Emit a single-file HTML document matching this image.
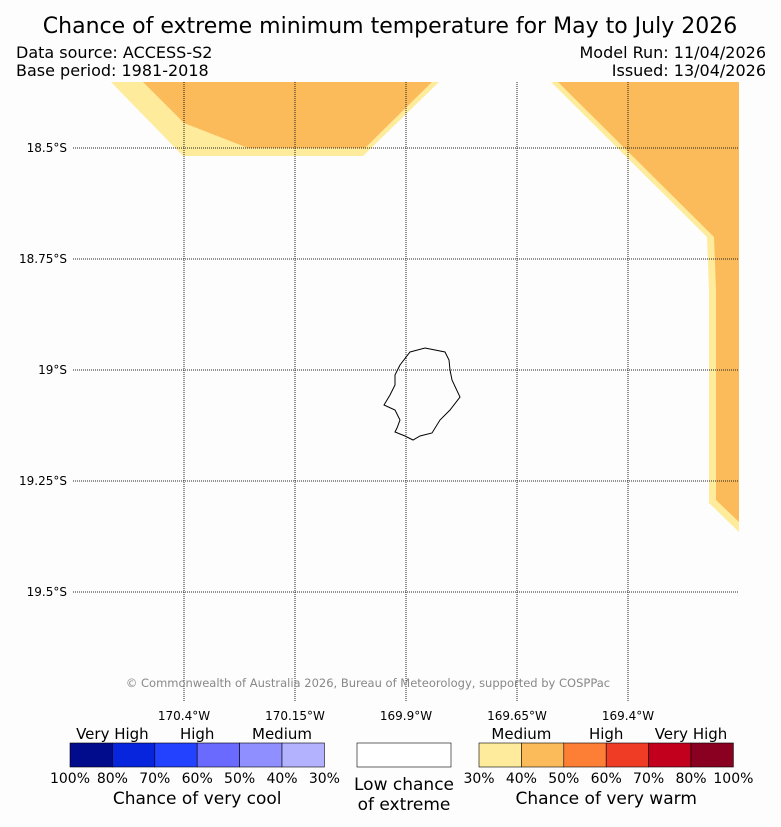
<!DOCTYPE html>
<html><head><meta charset="utf-8"><style>
body{margin:0;background:#fdfdfd;font-family:"Liberation Sans","DejaVu Sans",sans-serif;overflow:hidden}
svg{display:block}
svg text{font-family:"DejaVu Sans","Liberation Sans",sans-serif}
</style></head><body>
<svg width="781" height="827" viewBox="0 0 781 827">
<rect width="781" height="827" fill="#fdfdfd"/>
<text x="390" y="33" font-size="22" text-anchor="middle">Chance of extreme minimum temperature for May to July 2026</text>
<text x="16" y="58" font-size="16">Data source: ACCESS-S2</text>
<text x="16" y="76" font-size="16">Base period: 1981-2018</text>
<text x="766" y="58" font-size="16" text-anchor="end">Model Run: 11/04/2026</text>
<text x="766" y="76" font-size="16" text-anchor="end">Issued: 13/04/2026</text>
<g>
<polygon points="111,82 439,82 363,156 183,156" fill="#feeb9c"/>
<polygon points="143,82 432,82 365,148 248,148 184,123" fill="#fcbb5a"/>
<polygon points="551,82 739,82 739,532 709,503 709,290 707,237" fill="#feeb9c"/>
<polygon points="558,82 739,82 739,522 716,500 716,290 714,237" fill="#fcbb5a"/>
<g id="grid" stroke="#222" stroke-width="1" stroke-dasharray="1,1"></g>
<path d="M410,352 L425,348 L445,352 L449,360 L450,370 L452,380 L460,397 L450,410 L440,420 L432,433 L420,436 L413,440 L405,436 L395,432 L397,428 L400,420 L395,410 L384,405 L390,395 L395,385 L395,375 L400,365 Z" fill="none" stroke="#000" stroke-width="1"/>
<text x="368" y="687" font-size="11.5" fill="#888" text-anchor="middle">© Commonwealth of Australia 2026, Bureau of Meteorology, supported by COSPPac</text>
</g>
<g id="labels" font-size="12"></g>
<g id="cbar" font-size="14"></g>
</svg>
<script>
const lonTicks=["170.4°W","170.15°W","169.9°W","169.65°W","169.4°W"];
const latTicks=["18.5°S","18.75°S","19°S","19.25°S","19.5°S"];
const coolColors=["#000c8c","#0625dc","#2342ff","#6a6aff","#8f8fff","#b2b2ff"];
const coolLabels=["100%","80%","70%","60%","50%","40%","30%"];
const warmColors=["#feeb9c","#fcbb5a","#fd7f35","#ef3d25","#c2001e","#8a0020"];
const warmLabels=["30%","40%","50%","60%","70%","80%","100%"];
const NS="http://www.w3.org/2000/svg";
function mk(t,a,p,txt){const e=document.createElementNS(NS,t);for(const k in a)e.setAttribute(k,a[k]);if(txt!==undefined)e.textContent=txt;p.appendChild(e);return e;}
const g=document.getElementById('grid'),L=document.getElementById('labels'),C=document.getElementById('cbar');
const xAt=i=>184+111*i,yAt=i=>148+111*i;
lonTicks.forEach((t,i)=>{
 const l=mk('line',{x1:xAt(i),x2:xAt(i),y1:82,y2:702},g);
 
 
 const tx=mk('text',{x:xAt(i),y:720,'text-anchor':'middle'},L,t);
 
 
});
latTicks.forEach((t,i)=>{
 const l=mk('line',{x1:73,x2:739,y1:yAt(i),y2:yAt(i)},g);
 
 
 const tx=mk('text',{x:67,y:yAt(i)+4,'text-anchor':'end'},L,t);
 
 
});
function bar(x0,colors,labels,cats,title,name){
 const w=42.4;
 colors.forEach((c,i)=>{
  const r=mk('rect',{x:x0+i*w,y:743,width:w,height:24,fill:c,stroke:'#000','stroke-width':0.6},C);
  
  
 });
 labels.forEach((t,i)=>{
  const tx=mk('text',{x:x0+i*w,y:783,'text-anchor':'middle'},C,t);
  
  
 });
 cats.forEach(c=>{
  const tx=mk('text',{x:x0+c[1]*w,y:739,'text-anchor':'middle','font-size':15},C,c[0]);
  
  
 });
 const tt=mk('text',{x:x0+3*w,y:804,'text-anchor':'middle','font-size':17},C,title);
 
 
}
bar(70,coolColors,coolLabels,[["Very High",1],["High",3],["Medium",5]],"Chance of very cool","cool-colorbar");
bar(479,warmColors,warmLabels,[["Medium",1],["High",3],["Very High",5]],"Chance of very warm","warm-colorbar");
const nb=mk('rect',{x:357,y:743,width:94,height:24,fill:'#fff',stroke:'#000','stroke-width':0.6},C);


const n1=mk('text',{x:404,y:790,'text-anchor':'middle','font-size':17},C,'Low chance');


const n2=mk('text',{x:404,y:810,'text-anchor':'middle','font-size':17},C,'of extreme');


</script>
</body></html>
